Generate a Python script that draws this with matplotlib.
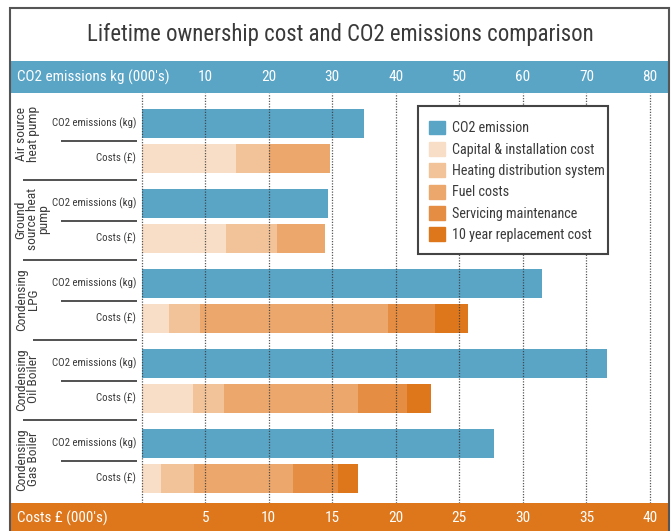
import numpy as np
import matplotlib
matplotlib.use('Agg')
import matplotlib.pyplot as plt
from matplotlib.patches import Rectangle, Patch
from matplotlib import font_manager
from matplotlib.textpath import TextPath
from matplotlib.font_manager import FontProperties

installed = {f.name for f in font_manager.fontManager.ttflist}
fam = 'DejaVu Sans'
for cand in ['Liberation Sans Narrow', 'Roboto Condensed', 'Open Sans Condensed',
             'Noto Sans Condensed', 'Lato', 'Open Sans']:
    if cand in installed:
        fam = cand
        break
plt.rcParams['font.family'] = [fam, 'DejaVu Sans']


def fit(s, px):
    # font size (pt) so that string s is px pixels wide at 100 dpi
    w = TextPath((0, 0), s, size=10, prop=FontProperties(family=fam)).get_extents().width
    return 10 * px / (w * 100 / 72)


# data (costs in £000s, CO2 in kg 000's)
groups = ['Air source\nheat pump', 'Ground\nsource heat\npump', 'Condensing\nLPG',
          'Condensing\nOil Boiler', 'Condensing\nGas Boiler']
co2 = [35.0, 29.4, 63.0, 73.3, 55.5]
capital = [7.4, 6.6, 2.15, 4.05, 1.5]
heating = [2.6, 4.05, 2.45, 2.45, 2.6]
fuel = [4.8, 3.75, 14.8, 10.5, 7.8]
servicing = [0, 0, 3.65, 3.9, 3.55]
replacement = [0, 0, 2.6, 1.9, 1.6]
cost_ticks = [5, 10, 15, 20, 25, 30, 35, 40]
co2_ticks = [10, 20, 30, 40, 50, 60, 70, 80]

blue = '#5AA4C6'
cost_cols = ['#F8DEC6', '#F2C399', '#ECA76D', '#E58D42', '#DE771C']
cost_names = ['Capital & installation cost', 'Heating distribution system', 'Fuel costs',
              'Servicing maintenance', '10 year replacement cost']
txt = '#3a3a3a'

title = 'Lifetime ownership cost and CO2 emissions comparison'
fs_title = fit(title, 503)
fs_band = fit("CO2 emissions kg (000's)", 150)
fs_tick = fit('10', 13)
fs_row = fit('CO2 emissions (kg)', 83)
fs_leg = fit('Heating distribution system', 152)
fs_grp = fit('Condensing', 61)

W, H = 671, 531
fig = plt.figure(figsize=(W/100, H/100), dpi=100)
xlim = (-10.36, 41.42)

ax_top = fig.add_axes([10/W, 1-93/H, 658/W, 32/H])
ax = fig.add_axes([10/W, 1-503/H, 658/W, 410/H])
ax_bot = fig.add_axes([10/W, 0, 658/W, 28/H])

for a in (ax_top, ax, ax_bot):
    a.set_xlim(*xlim)
    a.set_xticks([])
    a.set_yticks([])
    for s in a.spines.values():
        s.set_visible(False)

# bands
ax_top.set_facecolor(blue)
ax_bot.set_facecolor('#DE771C')
ax_top.text((17-10)/658, 0.5, "CO2 emissions kg (000's)", transform=ax_top.transAxes,
            color='white', fontsize=fs_band, va='center', ha='left')
ax_bot.text((17-10)/658, 0.45, "Costs £ (000's)", transform=ax_bot.transAxes,
            color='white', fontsize=fs_band, va='center', ha='left')
for c in co2_ticks:
    ax_top.text(c/2, 0.5, str(c), transform=ax_top.get_xaxis_transform(),
                color='white', fontsize=fs_tick, ha='center', va='center')
for c in cost_ticks:
    ax_bot.text(c, 0.45, str(c), transform=ax_bot.get_xaxis_transform(),
                color='white', fontsize=fs_tick, ha='center', va='center')

# bars
g = np.arange(len(groups))
y_co2 = g
y_cost = g + 0.4375
h = 0.3625
ax.barh(y_co2, np.array(co2)/2, height=h, color=blue, zorder=2)
left = np.zeros(len(groups))
for vals, col in zip([capital, heating, fuel, servicing, replacement], cost_cols):
    ax.barh(y_cost, vals, left=left, height=h, color=col, zorder=2)
    left += np.array(vals)
ax.set_ylim(4.746, -0.379)

for t in [0] + cost_ticks:
    ax.axvline(t, color='#3a3a3a', lw=0.9, ls=(0, (1, 1.2)), alpha=0.85, zorder=3)

# left label panel
for i, name in enumerate(groups):
    ax.text(-0.45, y_co2[i], 'CO2 emissions (kg)', ha='right', va='center',
            fontsize=fs_row, color=txt)
    ax.text(-0.45, y_cost[i], 'Costs (£)', ha='right', va='center',
            fontsize=fs_row, color=txt)
    ax.plot([-6.35, -0.37], [i + 0.219]*2, color='#333333', lw=1.2,
            solid_capstyle='butt', clip_on=False)
    gx = -8.6 if i == 1 else -9.0
    gy = i + 0.13 if i == 0 else i + 0.2
    ax.text(gx, gy, name, rotation=90, ha='center', va='center',
            fontsize=fs_grp, color=txt, linespacing=0.85, multialignment='center')
    if i < len(groups) - 1:
        x0 = -8.55 if i == 2 else -9.34
        ax.plot([x0, -0.37], [i + 0.71]*2, color='#333333', lw=1.2,
                solid_capstyle='butt', clip_on=False)

# legend: box drawn separately, entries placed inside
fig.patches.append(Rectangle((418/W, 1-254/H), 190/W, 148/H, transform=fig.transFigure,
                             facecolor='white', edgecolor='#444444', lw=1.5, zorder=4))
handles = [Patch(color=blue, label='CO2 emission')] + \
          [Patch(color=c, label=n) for c, n in zip(cost_cols, cost_names)]
fpx = fs_leg * 100 / 72
leg = fig.legend(handles=handles, loc='upper left', bbox_to_anchor=(429/W, 1-120.5/H),
                 bbox_transform=fig.transFigure, fontsize=fs_leg, frameon=False,
                 handlelength=16/fpx, handleheight=16/fpx, handletextpad=7/fpx,
                 labelspacing=0.47, borderpad=0, borderaxespad=0, labelcolor=txt)
leg.set_zorder(5)

# title and frame
fig.text(340/W, 1-34/H, title, ha='center', va='center', fontsize=fs_title, color=txt)
fig.patches.append(Rectangle((9.5/W, -0.01), 659/W, 1.01 - 8/H, transform=fig.transFigure,
                             fill=False, edgecolor='#555555', lw=1.5, zorder=10))

fig.savefig('out.png', dpi=100)
